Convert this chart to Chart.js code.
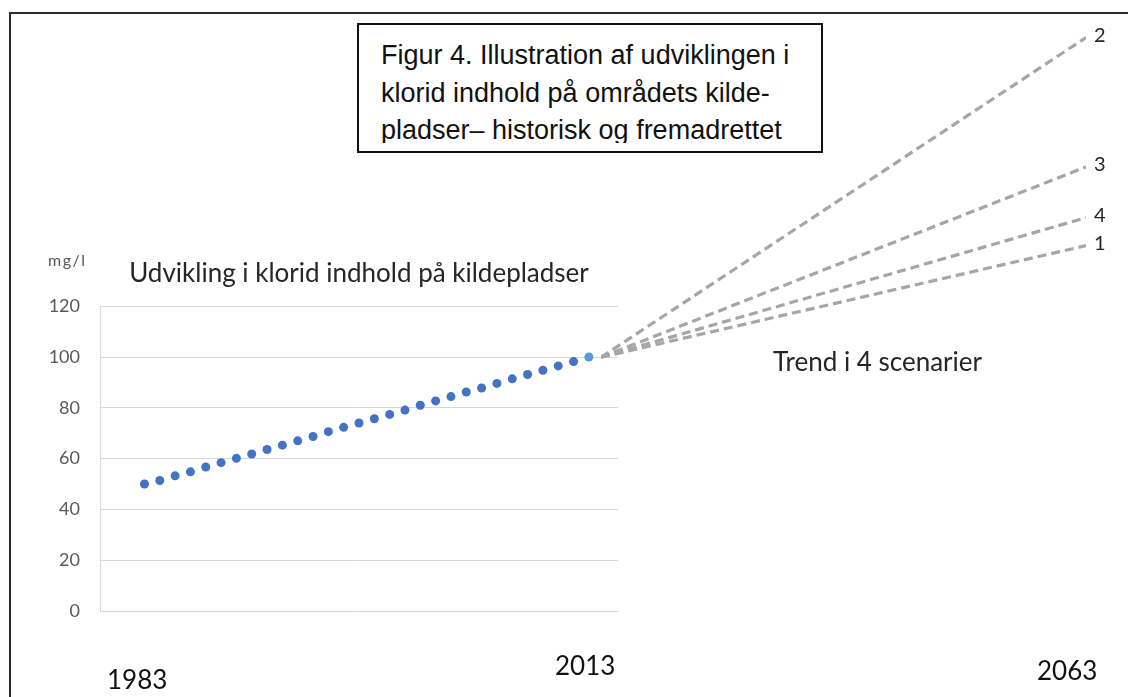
<!DOCTYPE html>
<html>
<head>
<meta charset="utf-8">
<title>Klorid indhold på kildepladser</title>
<script src="https://cdn.jsdelivr.net/npm/chart.js@4"></script>
<style>
  body { margin: 0; background: #fff; }
  #page { position: relative; width: 1128px; height: 697px; overflow: hidden; background: #fff; font-family: Lato, sans-serif; }
  #frame { position: absolute; left: 9px; top: 12px; width: 1300px; height: 900px; border-left: 2px solid #2b2b2b; border-top: 2px solid #2b2b2b; }
  canvas { position: absolute; left: 0; top: 0; }
  #scenarios { pointer-events: none; }
  .caption { position: absolute; left: 357px; top: 23px; width: 462px; height: 126px; border: 2px solid #111; background: #fff; }
  .caption .txt { height: 118px; overflow: hidden; padding: 12px 0 0 22px; box-sizing: border-box;
    font-family: Arial, "Liberation Sans", sans-serif; font-size: 27px; line-height: 37.5px; color: #111; white-space: nowrap; }
  .note { position: absolute; line-height: 1; white-space: nowrap; color: #262626; }
  .year { font-size: 26px; color: #111; }
</style>
</head>
<body>
<div id="page">
  <div id="frame"></div>
  <canvas id="history" width="1128" height="697"></canvas>
  <canvas id="scenarios" width="1128" height="697"></canvas>
  <div class="caption"><div class="txt">Figur 4. Illustration af udviklingen i<br>klorid indhold på områdets kilde-<br>pladser– historisk og fremadrettet</div></div>
  <div class="note" style="left:48px; top:252px; font-size:16px; letter-spacing:1.5px; color:#595959;">mg/l</div>
  <div class="note" style="left:773px; top:348px; font-size:26px;">Trend i 4 scenarier</div>
  <div class="note year" style="left:107px; top:666px;">1983</div>
  <div class="note year" style="left:555px; top:652px;">2013</div>
  <div class="note year" style="left:1037px; top:657px;">2063</div>
</div>
<script>
// historical chloride content, mg/l
const histYears = [1984, 1985, 1986, 1987, 1988, 1989, 1990, 1991, 1992, 1993,
  1994, 1995, 1996, 1997, 1998, 1999, 2000, 2001, 2002, 2003,
  2004, 2005, 2006, 2007, 2008, 2009, 2010, 2011, 2012, 2013];
const histValues = [50.0, 51.4, 53.2, 54.8, 56.7, 58.4, 60.1, 61.8, 63.6, 65.3,
  67.0, 68.7, 70.6, 72.3, 74.0, 75.7, 77.4, 79.1, 81.0, 82.7,
  84.4, 86.2, 87.8, 89.6, 91.4, 93.1, 94.8, 96.5, 98.2, 100.0];
const yTicks = [0, 20, 40, 60, 80, 100, 120];

// scenario trends 2013 -> 2063
const scenarioYears = [2013, 2063];
const scenarioLabels = ['2', '3', '4', '1'];
const scenario2 = [100, 226];
const scenario3 = [100, 175];
const scenario4 = [100, 155];
const scenario1 = [100, 144];
const scenarioValues = [scenario2, scenario3, scenario4, scenario1];

const DOT = '#4472C4';
const DOT_LAST = '#5B9BD5';
const DASH = '#A6A6A6';

new Chart(document.getElementById('history'), {
  type: 'scatter',
  data: {
    datasets: [{
      data: histYears.map((x, i) => ({ x, y: histValues[i] })),
      pointRadius: 4.5,
      pointBorderWidth: 0,
      pointBackgroundColor: histValues.map((v, i) => i === histValues.length - 1 ? DOT_LAST : DOT)
    }]
  },
  options: {
    responsive: false,
    animation: false,
    events: [],
    layout: { padding: { left: 20, top: 258, right: 510, bottom: 86 } },
    plugins: {
      legend: { display: false },
      tooltip: { enabled: false },
      title: {
        display: true,
        fullSize: false,
        text: 'Udvikling i klorid indhold på kildepladser',
        color: '#262626',
        font: { family: 'Lato', size: 26, weight: 'normal' },
        padding: { top: 0, bottom: 17 }
      }
    },
    scales: {
      x: { type: 'linear', display: false, min: 1981.1, max: 2014.9 },
      y: {
        min: 0,
        max: 120,
        afterFit: s => { s.width = 80; },
        afterBuildTicks: s => { s.ticks = yTicks.map(v => ({ value: v })); },
        border: { display: true, color: '#d9d9d9' },
        grid: { color: '#d9d9d9', drawTicks: false },
        ticks: { padding: 20, color: '#595959', font: { family: 'Lato', size: 18 } }
      }
    }
  }
});

// number each scenario at the end of its line
const endLabels = {
  id: 'endLabels',
  afterDatasetsDraw(chart) {
    const ctx = chart.ctx;
    ctx.save();
    ctx.font = '20px Lato';
    ctx.fillStyle = '#262626';
    ctx.textBaseline = 'middle';
    chart.data.datasets.forEach((ds, i) => {
      const pts = chart.getDatasetMeta(i).data;
      const last = pts[pts.length - 1];
      ctx.fillText(ds.label, last.x + 8, last.y - 2);
    });
    ctx.restore();
  }
};

new Chart(document.getElementById('scenarios'), {
  type: 'line',
  data: {
    datasets: scenarioValues.map((vals, i) => ({
      label: scenarioLabels[i],
      data: scenarioYears.map((x, j) => ({ x, y: vals[j] })),
      borderColor: DASH,
      borderWidth: 3.2,
      borderDash: [9, 5],
      pointRadius: 0,
      fill: false
    }))
  },
  options: {
    responsive: false,
    animation: false,
    events: [],
    layout: { padding: { left: 601, right: 42, top: 2, bottom: 86 } },
    plugins: { legend: { display: false }, tooltip: { enabled: false } },
    scales: {
      x: { type: 'linear', display: false, min: 2013, max: 2063 },
      y: { display: false, min: 0, max: 240 }
    }
  },
  plugins: [endLabels]
});
</script>
</body>
</html>
